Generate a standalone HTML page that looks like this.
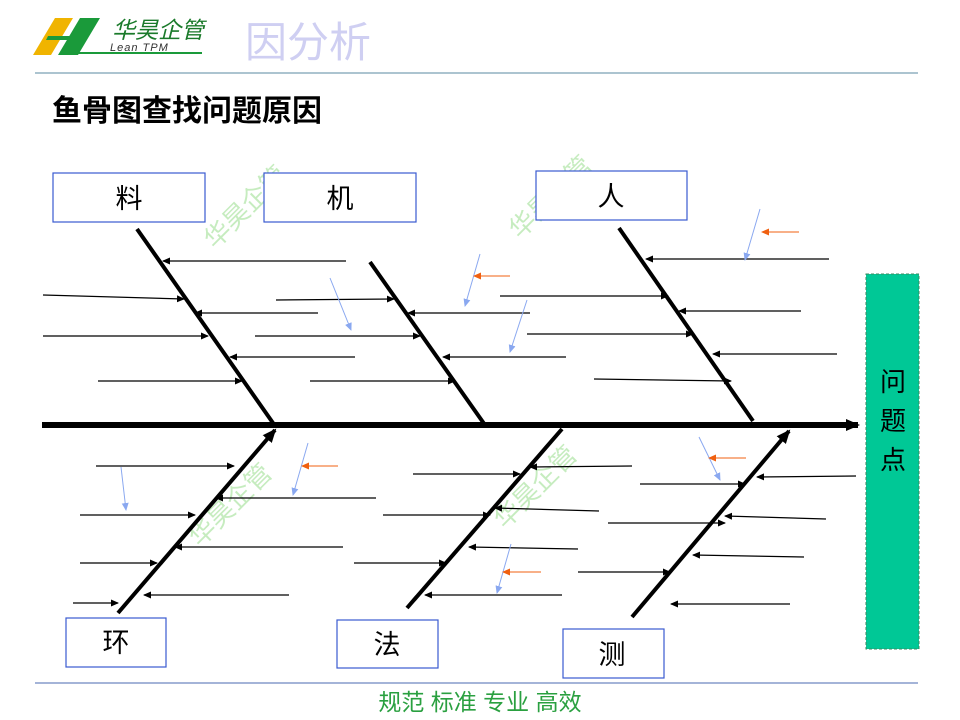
<!DOCTYPE html>
<html><head><meta charset="utf-8"><style>
html,body{margin:0;padding:0;background:#fff;}
svg{display:block;}
text{font-family:"Liberation Sans","Noto Sans CJK SC",sans-serif;}
</style></head><body>
<svg width="960" height="720" viewBox="0 0 960 720" xmlns="http://www.w3.org/2000/svg">
<defs>
<marker id="a" markerWidth="8" markerHeight="8" refX="7" refY="4" orient="auto" markerUnits="userSpaceOnUse"><path d="M0,0.5 L8,4 L0,7.5z" fill="#000"/></marker>
<marker id="b" markerWidth="8" markerHeight="8" refX="7" refY="4" orient="auto" markerUnits="userSpaceOnUse"><path d="M0,0.5 L8,4 L0,7.5z" fill="#8aa8f0"/></marker>
<marker id="o" markerWidth="8" markerHeight="8" refX="7" refY="4" orient="auto" markerUnits="userSpaceOnUse"><path d="M0,0.5 L8,4 L0,7.5z" fill="#f06010"/></marker>
<marker id="big" markerWidth="14" markerHeight="14" refX="12" refY="7" orient="auto" markerUnits="userSpaceOnUse"><path d="M0,1 L14,7 L0,13z" fill="#000"/></marker>
</defs>
<!-- logo -->
<polygon points="33,55 55,18 73,18 51,55" fill="#f0b400"/>
<polygon points="58,55 80,18 100,18 78,55" fill="#1a9a3a"/>
<polygon points="48,36 88,36 86,40 46,40" fill="#1a9a3a"/>
<line x1="78" y1="53" x2="202" y2="53" stroke="#1a9a3a" stroke-width="2"/>
<text x="112" y="38" font-size="23" fill="#1a7a2a" font-style="italic">华昊企管</text>
<text x="110" y="51" font-size="11" fill="#333" font-style="italic" letter-spacing="1">Lean TPM</text>
<text x="245" y="57" font-size="42" fill="#cfcff2">因分析</text>
<line x1="35" y1="73" x2="918" y2="73" stroke="#5a8aa0" stroke-width="1"/>
<text x="52" y="121" font-size="30" font-weight="bold" fill="#000">鱼骨图查找问题原因</text>
<!-- watermarks -->
<g fill="#b8e8b0" font-size="26" opacity="0.8">
<text transform="translate(215,250) rotate(-45)">华昊企管</text>
<text transform="translate(520,240) rotate(-45)">华昊企管</text>
<text transform="translate(200,548) rotate(-45)">华昊企管</text>
<text transform="translate(505,530) rotate(-45)">华昊企管</text>
</g>
<!-- boxes -->
<g fill="#fff" stroke="#3a5ad0" stroke-width="1.2">
<rect x="53" y="173" width="152" height="49"/>
<rect x="264" y="173" width="152" height="49"/>
<rect x="536" y="171" width="151" height="49"/>
<rect x="66" y="618" width="100" height="49"/>
<rect x="337" y="620" width="101" height="48"/>
<rect x="563" y="629" width="101" height="49"/>
</g>
<g font-size="27" fill="#000" text-anchor="middle">
<text x="129" y="208">料</text>
<text x="340" y="208">机</text>
<text x="611" y="206">人</text>
<text x="116" y="652">环</text>
<text x="387" y="654">法</text>
<text x="612" y="664">测</text>
</g>
<rect x="866" y="274" width="53" height="375" fill="#00c896" stroke="#3a8a60" stroke-dasharray="3,2"/>
<g font-size="26" fill="#000" text-anchor="middle">
<text x="893" y="391">问</text><text x="893" y="430">题</text><text x="893" y="469">点</text>
</g>
<!-- spine -->
<line x1="42" y1="425" x2="858" y2="425" stroke="#000" stroke-width="6" marker-end="url(#big)"/>
<g stroke="#000" stroke-width="4">
<line x1="137" y1="229" x2="273" y2="423"/>
<line x1="370" y1="262" x2="485" y2="425"/>
<line x1="619" y1="228" x2="753" y2="421"/>
<line x1="118" y1="613" x2="275" y2="430" marker-end="url(#big)"/>
<line x1="407" y1="608" x2="562" y2="429"/>
<line x1="632" y1="617" x2="789" y2="431" marker-end="url(#big)"/>
</g>
<g stroke="#000" stroke-width="1.2" marker-end="url(#a)">
<line x1="346" y1="261" x2="163" y2="261"/>
<line x1="43" y1="295" x2="184" y2="299"/>
<line x1="318" y1="313" x2="195" y2="313"/>
<line x1="43" y1="336" x2="208" y2="336"/>
<line x1="355" y1="357" x2="230" y2="357"/>
<line x1="98" y1="381" x2="242" y2="381"/>
<line x1="276" y1="300" x2="394" y2="299"/>
<line x1="530" y1="313" x2="408" y2="313"/>
<line x1="255" y1="336" x2="420" y2="336"/>
<line x1="566" y1="357" x2="443" y2="357"/>
<line x1="310" y1="381" x2="455" y2="381"/>
<line x1="829" y1="259" x2="646" y2="259"/>
<line x1="500" y1="296" x2="668" y2="296"/>
<line x1="801" y1="311" x2="679" y2="311"/>
<line x1="527" y1="334" x2="693" y2="334"/>
<line x1="837" y1="354" x2="713" y2="354"/>
<line x1="594" y1="379" x2="731" y2="381"/>
<line x1="96" y1="466" x2="234" y2="466"/>
<line x1="376" y1="498" x2="216" y2="498"/>
<line x1="80" y1="515" x2="195" y2="515"/>
<line x1="343" y1="547" x2="175" y2="547"/>
<line x1="80" y1="563" x2="157" y2="563"/>
<line x1="289" y1="595" x2="144" y2="595"/>
<line x1="73" y1="603" x2="118" y2="603"/>
<line x1="413" y1="474" x2="520" y2="474"/>
<line x1="632" y1="466" x2="530" y2="467"/>
<line x1="383" y1="515" x2="490" y2="515"/>
<line x1="599" y1="511" x2="495" y2="508"/>
<line x1="578" y1="549" x2="469" y2="547"/>
<line x1="354" y1="563" x2="446" y2="563"/>
<line x1="562" y1="595" x2="425" y2="595"/>
<line x1="640" y1="484" x2="745" y2="484"/>
<line x1="856" y1="476" x2="757" y2="477"/>
<line x1="608" y1="523" x2="725" y2="523"/>
<line x1="826" y1="519" x2="725" y2="516"/>
<line x1="578" y1="572" x2="670" y2="572"/>
<line x1="804" y1="557" x2="693" y2="555"/>
<line x1="790" y1="604" x2="671" y2="604"/>
</g>
<g stroke="#8aa8f0" stroke-width="1" marker-end="url(#b)">
<line x1="330" y1="278" x2="351" y2="330"/>
<line x1="480" y1="254" x2="465" y2="306"/>
<line x1="527" y1="300" x2="510" y2="352"/>
<line x1="760" y1="209" x2="745" y2="260"/>
<line x1="121" y1="467" x2="126" y2="510"/>
<line x1="308" y1="443" x2="293" y2="495"/>
<line x1="511" y1="544" x2="497" y2="593"/>
<line x1="699" y1="437" x2="720" y2="480"/>
</g>
<g stroke="#f06010" stroke-width="1" marker-end="url(#o)">
<line x1="510" y1="276" x2="474" y2="276"/>
<line x1="799" y1="232" x2="762" y2="232"/>
<line x1="338" y1="466" x2="302" y2="466"/>
<line x1="541" y1="572" x2="503" y2="572"/>
<line x1="746" y1="458" x2="709" y2="458"/>
</g>
<line x1="35" y1="683" x2="918" y2="683" stroke="#4a6ab0" stroke-width="1"/>
<text x="480" y="710" font-size="23" fill="#2aa040" text-anchor="middle">规范 标准 专业 高效</text>
</svg>
</body></html>
